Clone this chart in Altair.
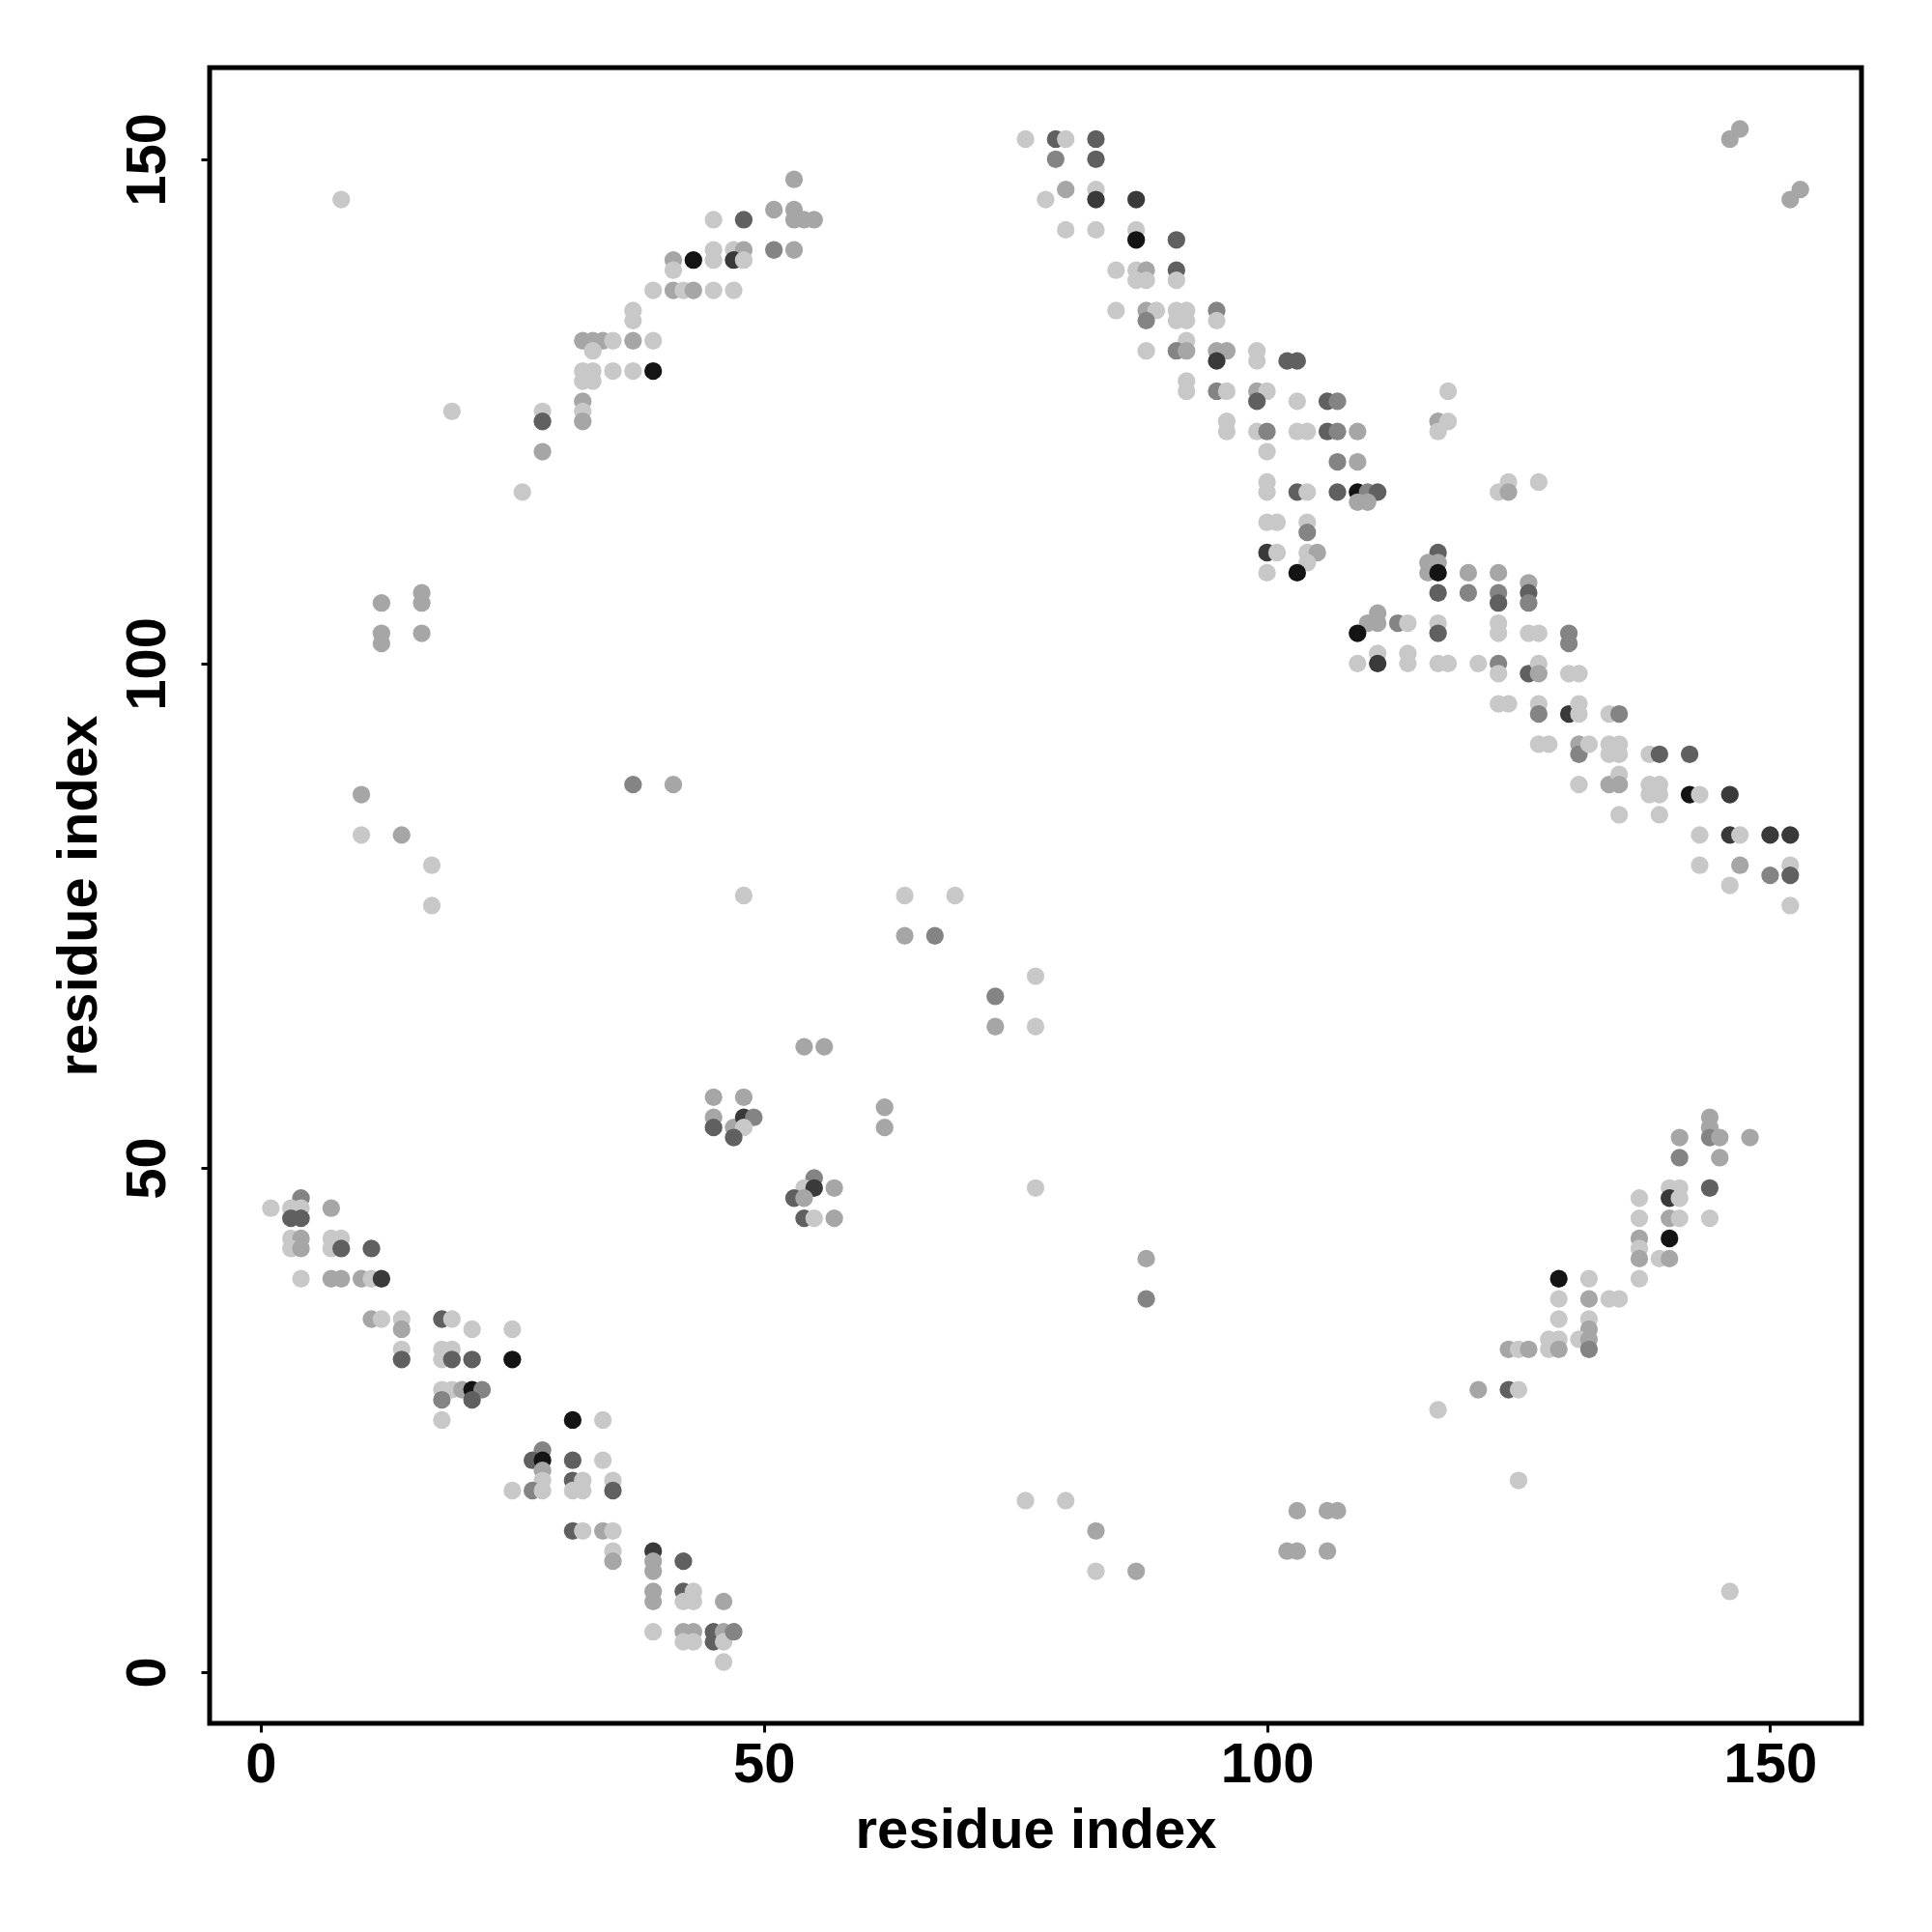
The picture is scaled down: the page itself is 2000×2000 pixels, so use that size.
import altair as alt
import pandas as pd

# ---- contact points (residue i, residue j, shade level 1=light .. 6=black) ----
# lower-left diagonal band
a_x = [4,1,3,4,7,3,4,3,4,7,8,3,4,7,8,11,4,7,8,10,11,12,11,12,14,14,18,19,21,25,14,14,18,19,18,19,21,25,18,19,20,21,22,18,21,18]
a_y = [47,46,46,46,46,45,45,43,43,43,43,42,42,42,42,42,39,39,39,39,39,39,35,35,35,34,35,35,34,34,32,31,32,32,31,31,31,31,28,28,28,28,28,27,27,25]
a_s = [3,1,1,1,2,4,4,1,2,1,1,1,2,1,4,4,1,2,2,2,1,5,2,1,1,2,4,1,1,1,1,4,1,1,1,4,4,6,1,1,2,6,3,3,4,1]

b_x = [31,34,28,27,28,31,34,28,28,31,32,35,25,27,28,31,32,35,31,32,34,35,35,35,39,39,39,42,39,39,42,43,42,43,46,39,42,43,42,43,45,45,46,46,47,46]
b_y = [25,25,22,21,21,21,21,20,19,19,19,19,18,18,18,18,18,18,14,14,14,14,12,11,12,11,10,11,8,7,8,8,7,7,7,4,4,4,3,3,4,3,4,3,4,1]
b_s = [6,1,3,4,6,4,1,2,1,4,1,1,1,3,1,1,1,4,4,1,2,1,1,2,5,2,2,4,2,2,4,1,1,1,2,1,2,2,1,1,4,4,2,1,3,1]

# upper-left arc
c_x = [53,51,53,45,48,53,54,55,45,47,48,51,53,41,43,45,47,48,41,39,41,42,43,45,47,37,37,32,33,34,35,37,39,33,32,33,35,37,39,32,33,32,32,32,28,28,28,26,8,19]
c_y = [148,145,145,144,144,144,144,144,141,141,141,141,141,140,140,140,140,140,139,137,137,137,137,137,137,135,134,132,132,132,132,132,132,131,129,129,129,129,129,128,128,126,125,124,125,124,121,117,146,125]
c_s = [2,2,2,1,4,2,2,2,1,1,2,3,2,2,6,1,5,1,1,1,2,1,2,1,1,1,1,2,2,2,1,2,1,1,1,1,1,1,6,1,1,2,1,2,1,4,2,1,1,1]

# upper-right diagonal band
d_x = [76,79,80,83,79,83,80,83,78,83,87,80,83,87,87,91,85,87,88,91,87,88,91,85,88,89,91,92,95,88,91,92,95,92,88,91,92,95,96,99,95,99,102,103,92,92,95,96,99,100,99,103,106,107,96,96,99,100,100]
d_y = [152,152,152,152,150,150,147,147,146,146,146,143,143,143,142,142,139,139,139,139,138,138,138,135,135,135,135,135,135,134,134,134,134,132,131,131,131,131,131,131,130,130,130,130,128,127,127,127,127,127,126,126,126,126,124,123,123,123,121]
d_s = [1,4,1,4,3,4,2,1,1,5,5,1,1,1,6,4,1,1,2,4,1,1,1,1,2,1,1,1,3,3,1,1,1,1,1,3,2,2,2,1,5,1,4,4,1,1,3,1,2,1,4,1,4,3,1,1,1,3,1]

e_x = [103,104,106,107,109,117,118,117,118,107,109,100,100,103,104,107,109,110,111,109,110,123,124,124,127,100,101,104,104,100,101,104,105,104,100,103,117,116,117,116,117,120,123,117,120,123,123,126,126,126,110,111,111,109,113,114,117,117,123,123,109,111,111,114,114,117,118,121,123,123,123,124]
e_y = [123,123,123,123,123,124,124,123,127,120,120,118,117,117,117,117,117,117,117,116,116,117,118,117,118,114,114,114,113,111,111,111,111,110,109,109,111,110,110,109,109,109,109,107,107,107,106,108,107,106,104,105,104,103,104,104,104,103,104,103,100,101,100,101,100,100,100,100,100,99,96,96]
e_s = [1,1,4,3,2,2,1,1,1,3,2,1,1,4,1,4,6,3,4,2,2,1,1,2,1,1,1,1,3,5,1,1,2,1,1,6,4,2,2,2,6,2,2,4,3,3,4,2,4,3,2,2,2,6,3,1,1,4,1,1,1,1,5,1,1,1,1,1,3,1,1,1]

f_x = [126,127,130,130,126,127,127,130,131,127,127,130,131,131,134,135,127,128,131,131,132,134,135,134,135,138,139,142,131,134,135,135,138,139,138,139,142,143,146,135,139,143,146,147,150,152,143,147,150,152,152,146,152]
f_y = [103,103,103,102,99,100,99,99,99,96,95,95,96,95,95,95,92,92,92,91,92,92,92,91,91,91,91,91,88,88,89,88,88,88,87,87,87,87,87,85,85,83,83,83,83,83,80,80,79,80,79,78,76]
f_s = [1,1,3,3,4,1,2,1,1,1,3,5,1,1,1,3,1,1,2,3,1,1,1,1,1,1,4,4,1,2,1,2,1,1,1,1,6,1,5,1,1,1,5,1,5,5,1,2,3,1,4,1,1]

# lower-right arc
g_x = [144,144,141,144,145,148,141,145,140,141,144,137,140,141,137,140,141,144,137,140,137,137,139,140,137,129,132,129,132,134,135,129,132,132,128,129,131,132,124,125,126,128,129,132,121,124,125,117,125]
g_y = [55,54,53,53,53,53,51,51,48,48,48,47,47,47,45,45,45,45,43,43,42,41,41,41,39,39,39,37,37,37,37,35,35,34,33,33,33,33,32,32,32,32,32,32,28,28,28,26,19]
g_s = [2,2,2,3,2,2,3,2,1,1,4,1,5,1,1,2,1,1,2,6,1,2,1,2,1,6,1,1,2,1,1,1,1,2,1,1,1,2,2,1,2,1,2,3,2,4,1,1,1]

# middle
h_x = [48,64,69,64,67,77,73,73,77,54,56,45,48,45,45,47,48,49,48,47,62,62,55,54,55,57,53,54,54,55,57,77]
h_y = [77,77,77,73,73,69,67,64,64,62,62,57,57,55,54,54,55,55,54,53,56,54,49,48,48,48,47,47,45,45,45,48]
h_s = [1,1,1,2,3,1,3,2,1,2,2,2,2,2,4,2,5,3,1,4,2,2,3,1,5,2,4,2,4,1,2,1]

# isolated contacts
i_x = [12,16,16,12,12,16,10,10,14,17,17,37,41,88,88,76,80,83,83,87,103,106,107,102,103,106,146,152,153,146,147]
i_y = [106,107,106,103,102,103,87,83,83,80,76,88,88,41,37,17,17,14,10,10,16,16,16,12,12,12,8,146,147,152,153]
i_s = [2,2,2,2,2,2,2,1,2,1,1,3,2,2,3,1,1,2,1,2,2,2,2,2,2,2,1,2,2,2,2]

shade_levels = [1, 2, 3, 4, 5, 6]
shade_colors = ["#c8c8c8", "#a6a6a6", "#848484", "#606060", "#3a3a3a", "#141414"]
tick_values = [0, 50, 100, 150]
axis_domain = [-5.08, 159.08]

xs = a_x + b_x + c_x + d_x + e_x + f_x + g_x + h_x + i_x
ys = a_y + b_y + c_y + d_y + e_y + f_y + g_y + h_y + i_y
ss = a_s + b_s + c_s + d_s + e_s + f_s + g_s + h_s + i_s

df = pd.DataFrame({"i": xs, "j": ys, "shade": ss})

FONT = "Liberation Sans"
FS = 58

x_axis = alt.Axis(
    values=tick_values, title="residue index", grid=False, domain=False,
    tickSize=9, tickWidth=3, tickColor="black",
    labelFont=FONT, labelFontSize=FS, labelFontWeight="bold", labelColor="black",
    labelPadding=51, labelBaseline="alphabetic", labelFlush=False,
    titleFont=FONT, titleFontSize=FS, titleFontWeight="bold", titleColor="black",
    titleY=128, titleBaseline="alphabetic",
)
y_axis = alt.Axis(
    values=tick_values, title="residue index", grid=False, domain=False,
    tickSize=9, tickWidth=3, tickColor="black",
    labelFont=FONT, labelFontSize=FS, labelFontWeight="bold", labelColor="black",
    labelAngle=270, labelAlign="center", labelBaseline="alphabetic",
    labelPadding=38, labelFlush=False,
    titleFont=FONT, titleFontSize=FS, titleFontWeight="bold", titleColor="black",
    titleAngle=270, titleX=-118, titleY=857, titleAlign="center", titleBaseline="alphabetic",
)

chart = (
    alt.Chart(df)
    .mark_circle(size=335, opacity=1)
    .encode(
        x=alt.X("i:Q", scale=alt.Scale(domain=axis_domain, nice=False, zero=False), axis=x_axis),
        y=alt.Y("j:Q", scale=alt.Scale(domain=axis_domain, nice=False, zero=False), axis=y_axis),
        color=alt.Color("shade:O", scale=alt.Scale(domain=shade_levels, range=shade_colors), legend=None),
    )
    .properties(
        width=1710, height=1714,
        autosize=alt.AutoSizeParams(type="none"),
        padding={"left": 209, "top": 62, "right": 40, "bottom": 200},
        background="white",
    )
    .configure_view(stroke="black", strokeWidth=5)
)

chart.save("out.html", embed_options={"renderer": "svg", "actions": False})
